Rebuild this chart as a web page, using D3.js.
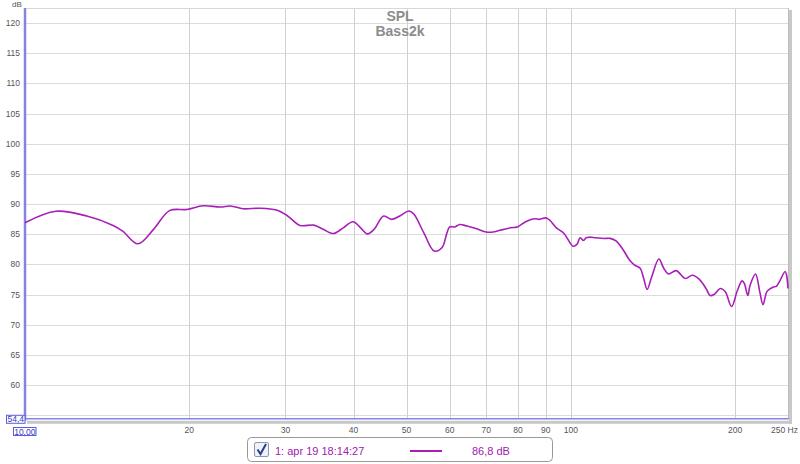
<!DOCTYPE html>
<html><head><meta charset="utf-8">
<script src="https://cdnjs.cloudflare.com/ajax/libs/d3/7.8.5/d3.min.js"></script>
<style>body{margin:0;background:#fff}svg{display:block}</style>
</head><body><svg id="c" width="800" height="464"></svg>
<script>
const freqs = [10,11.4,12.98,14.5,15.1,16.1,17.2,18.4,19.8,21.2,22.8,23.8,25.1,26.9,28.9,30.2,31.9,33.8,35.2,36.7,38.3,39.9,41.2,42.4,43.6,45.4,47.0,48.8,50.5,51.6,53.8,56.2,58.1,59.3,60,61.3,62.6,64.5,67.2,70,72,74.2,77.6,79.8,83,85.8,87.6,90,91.4,94.1,97,101,102.6,104,105.5,106.7,108,111,115,118,121,124.6,128,130.7,134,136,138,140.7,145,148,151,156,162,167,172,177,180,183,188,192,197,202,206,208,211,213,218,222,225,229,235,238,241,247,248.5,250];
const spl = [86.9,88.8,88.0,86.45,85.5,83.4,85.8,88.9,89.1,89.7,89.5,89.67,89.2,89.3,89.0,88.1,86.45,86.5,85.8,85.1,86.05,87.05,86.05,85.05,85.8,88.0,87.45,88.1,88.85,88.3,85.2,82.2,82.8,85.2,86.2,86.2,86.6,86.35,85.9,85.35,85.35,85.65,86.05,86.2,87.15,87.55,87.45,87.7,87.35,86.05,85.2,83.0,83.3,84.4,83.95,84.4,84.5,84.4,84.27,84.3,83.87,82.46,80.76,79.9,79.35,77.66,75.85,77.94,80.88,79.35,78.4,78.96,77.66,78.2,77.5,75.96,74.83,75.0,76.0,75.4,73.0,75.7,77.26,76.8,74.83,76.5,78.4,75.4,73.3,75.56,76.24,76.35,77.1,78.8,78.2,76.0];
const yGrid = [55,60,65,70,75,80,85,90,95,100,105,110,115,120];
const yTickLabels = [60,65,70,75,80,85,90,95,100,105,110,115,120];
const xGrid = [20,30,40,50,60,70,80,90,100,200];
const xTickLabels = ["20","30","40","50","60","70","80","90","100","200"];
const xEndLabel = "250 Hz";
const title = "SPL", subtitle = "Bass2k";
const legendName = "1: apr 19 18:14:27", legendValue = "86,8 dB";
const yMinLabel = "54,4", xMinLabel = "10,00";

const svg = d3.select("#c");
const L = 25, R = 788, T = 8;
const x = d3.scaleLog().domain([10,250]).range([L,R]);
const y = d3.scaleLinear().domain([60,120]).range([385,23]);
const B = y(54.4);
const font = "Liberation Sans, Arial, sans-serif";

// grid
svg.append("g").selectAll("line").data(yGrid).join("line")
  .attr("x1",L).attr("x2",R).attr("y1",d=>Math.round(y(d))+0.5).attr("y2",d=>Math.round(y(d))+0.5)
  .attr("stroke","#dcdcdc").attr("stroke-width",1);
svg.append("g").selectAll("line").data(xGrid).join("line")
  .attr("x1",d=>Math.round(x(d))+0.5).attr("x2",d=>Math.round(x(d))+0.5).attr("y1",T).attr("y2",B)
  .attr("stroke","#d0d0d0").attr("stroke-width",1);

// frame
svg.append("line").attr("x1",L).attr("x2",R+1).attr("y1",T+0.5).attr("y2",T+0.5).attr("stroke","#d8d8d8");
svg.append("rect").attr("x",R+1).attr("y",T+2).attr("width",3).attr("height",B-T+3).attr("fill","#c8c8c8");
svg.append("rect").attr("x",L+2).attr("y",B+2).attr("width",R-L+2).attr("height",3).attr("fill","#c8c8c8");
svg.append("line").attr("x1",R+0.5).attr("x2",R+0.5).attr("y1",T).attr("y2",B).attr("stroke","#bcbcbc");
svg.append("line").attr("x1",L).attr("x2",R+1).attr("y1",B).attr("y2",B).attr("stroke","#8585e6").attr("stroke-width",1.5);
svg.append("line").attr("x1",L).attr("x2",L).attr("y1",T).attr("y2",B+2).attr("stroke","#8585e0").attr("stroke-width",2.5);

// y labels
svg.append("g").selectAll("text").data(yTickLabels).join("text")
  .attr("x",20).attr("y",d=>y(d)+3).attr("text-anchor","end")
  .attr("font-family",font).attr("font-size",8.5).attr("fill","#555").text(d=>d);
svg.append("text").attr("x",12).attr("y",7).attr("font-family",font).attr("font-size",8).attr("fill","#555").text("dB");

// x labels
svg.append("g").selectAll("text").data(xGrid).join("text")
  .attr("x",d=>x(d)).attr("y",433).attr("text-anchor","middle")
  .attr("font-family",font).attr("font-size",8.5).attr("fill","#555").text((d,i)=>xTickLabels[i]);
svg.append("text").attr("x",798).attr("y",433).attr("text-anchor","end")
  .attr("font-family",font).attr("font-size",8.5).attr("fill","#555").text(xEndLabel);

// min labels
svg.append("rect").attr("x",6.5).attr("y",B-3.5).attr("width",18.5).attr("height",8).attr("fill","#fff").attr("stroke","#5a5ae0");
svg.append("text").attr("x",15.8).attr("y",B+3.3).attr("text-anchor","middle").attr("font-family",font).attr("font-size",8.5).attr("fill","#3a3ad0").text(yMinLabel);
svg.append("rect").attr("x",13.5).attr("y",427.5).attr("width",22.5).attr("height",8).attr("fill","#fff").attr("stroke","#5a5ae0");
svg.append("text").attr("x",24.8).attr("y",434.7).attr("text-anchor","middle").attr("font-family",font).attr("font-size",8.5).attr("fill","#3a3ad0").text(xMinLabel);

// titles
svg.append("text").attr("x",400).attr("y",21).attr("text-anchor","middle").attr("font-family",font).attr("font-weight","bold").attr("font-size",14).attr("fill","#8c8c8c").text(title);
svg.append("text").attr("x",400).attr("y",36).attr("text-anchor","middle").attr("font-family",font).attr("font-weight","bold").attr("font-size",14).attr("fill","#8c8c8c").text(subtitle);

// curve
const pts = freqs.map((f,i)=>[f,spl[i]]);
svg.append("path").datum(pts)
  .attr("d", d3.line().x(d=>x(d[0])).y(d=>y(d[1])).curve(d3.curveCatmullRom.alpha(0.5)))
  .attr("fill","none").attr("stroke","#a81fb8").attr("stroke-width",1.6).attr("stroke-linejoin","round");

// legend
svg.append("rect").attr("x",247.5).attr("y",437.5).attr("width",305).attr("height",24).attr("rx",4)
  .attr("fill","#fff").attr("stroke","#999");
svg.append("rect").attr("x",254.5).attr("y",442.5).attr("width",14).attr("height",14).attr("rx",1.5)
  .attr("fill","#eef2f8").attr("stroke","#8a99b0");
svg.append("path").attr("d","M257.5 449.5 L260.5 454 L266 444").attr("fill","none").attr("stroke","#2a3f8f").attr("stroke-width",2);
svg.append("text").attr("x",275).attr("y",454.5).attr("font-family",font).attr("font-size",11).attr("fill","#a020b0").text(legendName);
svg.append("line").attr("x1",410).attr("x2",442).attr("y1",451).attr("y2",451).attr("stroke","#a81fb8").attr("stroke-width",2);
svg.append("text").attr("x",472).attr("y",454.5).attr("font-family",font).attr("font-size",11).attr("fill","#a020b0").text(legendValue);
</script></body></html>
